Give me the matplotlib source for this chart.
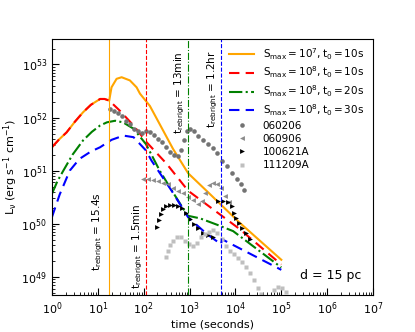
import numpy as np
import matplotlib
matplotlib.use("Agg")
from matplotlib import pyplot as plt

plt.rcParams['mathtext.default'] = 'regular'
plt.rcParams['font.family'] = ['DejaVu Sans']

# model curves as log10(t), log10(L)
orange_logt = [0, 0.16, 0.32, 0.5, 0.68, 0.85, 1.05, 1.15, 1.249, 1.30, 1.41, 1.52, 1.70, 1.846, 1.92, 2.135, 2.64, 2.97, 3.37, 4.09, 5.0]
orange_logL = [51.44, 51.59, 51.72, 51.92, 52.10, 52.24, 52.35, 52.35, 52.32, 52.57, 52.73, 52.76, 52.70, 52.57, 52.45, 52.22, 51.41, 50.95, 50.62, 50.02, 49.32]

red_logt = [0, 0.16, 0.32, 0.5, 0.68, 0.85, 1.05, 1.15, 1.25, 1.48, 1.78, 2.07, 2.50, 2.97, 4.09, 5.0]
red_logL = [51.44, 51.59, 51.72, 51.92, 52.10, 52.24, 52.35, 52.35, 52.32, 52.13, 51.85, 51.53, 51.13, 50.62, 49.9, 49.23]

green_logt = [0, 0.12, 0.25, 0.45, 0.68, 0.87, 1.05, 1.2, 1.38, 1.55, 1.78, 2.05, 2.35, 2.61, 2.96, 3.23, 3.6, 3.95, 5.0]
green_logL = [50.56, 50.8, 51.0, 51.3, 51.57, 51.73, 51.85, 51.91, 51.94, 51.91, 51.79, 51.50, 51.0, 50.63, 50.15, 50.10, 49.98, 49.86, 49.175]

blue_logt = [0, 0.17, 0.39, 0.6, 0.85, 1.05, 1.3, 1.56, 1.78, 2.05, 2.17, 2.61, 2.97, 3.37, 3.69, 3.70, 5.0]
blue_logL = [50.12, 50.55, 51.0, 51.22, 51.36, 51.44, 51.58, 51.66, 51.63, 51.38, 51.19, 50.62, 50.12, 49.81, 49.61, 49.71, 49.13]

# observed GRBs
grb060206_logt = [1.266, 1.354, 1.441, 1.528, 1.616, 1.703, 1.790, 1.878, 1.965, 2.052, 2.140, 2.227, 2.314, 2.402, 2.489, 2.576, 2.664, 2.751, 2.817, 2.882, 2.948, 3.013, 3.100, 3.188, 3.297, 3.406, 3.515, 3.603, 3.712, 3.821, 3.930, 4.039, 4.127, 4.192]
grb060206_logL = [52.17, 52.13, 52.08, 52.02, 51.94, 51.87, 51.79, 51.74, 51.70, 51.74, 51.72, 51.68, 51.60, 51.53, 51.45, 51.36, 51.30, 51.28, 51.38, 51.57, 51.75, 51.79, 51.74, 51.66, 51.58, 51.51, 51.42, 51.34, 51.19, 51.09, 50.96, 50.85, 50.74, 50.64]

grb060906_logt = [1.987, 2.096, 2.205, 2.314, 2.424, 2.533, 2.642, 2.751, 2.860, 2.969, 3.079, 3.188, 3.275, 3.341, 3.428, 3.515, 3.603, 3.690, 3.777, 3.865]
grb060906_logL = [50.85, 50.85, 50.83, 50.81, 50.77, 50.74, 50.68, 50.62, 50.57, 50.51, 50.45, 50.38, 50.43, 50.58, 50.72, 50.77, 50.75, 50.68, 50.53, 50.40]

grb100621A_logt = [2.293, 2.336, 2.380, 2.424, 2.489, 2.576, 2.664, 2.751, 2.838, 2.926, 3.013, 3.100, 3.188, 3.297, 3.406, 3.515, 3.624, 3.734, 3.843, 3.930, 3.974, 4.017, 4.083, 4.148, 4.236, 4.323]
grb100621A_logL = [49.94, 50.06, 50.19, 50.28, 50.34, 50.36, 50.36, 50.34, 50.30, 50.21, 50.09, 50.00, 49.91, 49.83, 49.79, 49.75, 50.43, 50.42, 50.40, 50.34, 50.21, 50.11, 50.02, 49.91, 49.83, 49.72]

grb111209A_logt = [2.489, 2.533, 2.576, 2.642, 2.729, 2.817, 2.904, 2.991, 3.079, 3.166, 3.253, 3.341, 3.428, 3.515, 3.603, 3.712, 3.799, 3.886, 3.974, 4.061, 4.148, 4.236, 4.323, 4.410, 4.498, 4.563, 4.847, 4.934, 5.022, 5.109]
grb111209A_logL = [49.38, 49.49, 49.60, 49.68, 49.75, 49.74, 49.68, 49.62, 49.58, 49.64, 49.74, 49.81, 49.85, 49.89, 49.83, 49.72, 49.58, 49.49, 49.43, 49.36, 49.28, 49.19, 49.08, 48.94, 48.79, 48.68, 48.75, 48.81, 48.79, 48.72]

# rebrightening times (line positions as drawn) and their labels
t_rebright = [17.7, 110, 904, 4966]
rebright_labels = ['15.4s', '1.5min', '13min', '1.2hr']
label_x = [10.1, 74.8, 617, 3240]
label_y = [7.1e49, 3.7e49, 2.95e52, 3.45e52]

fig = plt.figure(figsize=(4.15, 3.32), dpi=100)
ax = fig.add_axes([0.125, 0.111, 0.774, 0.771])

ax.plot(10**np.array(orange_logt), 10**np.array(orange_logL), color='orange', lw=1.5, ls='-',
        label=r'$S_{max}=10^7, t_0=10s$')
ax.plot(10**np.array(red_logt), 10**np.array(red_logL), color='r', lw=1.5, ls=(0, (5, 3)),
        label=r'$S_{max}=10^8, t_0=10s$')
ax.plot(10**np.array(green_logt), 10**np.array(green_logL), color='g', lw=1.5, ls='-.',
        label=r'$S_{max}=10^8, t_0=20s$')
ax.plot(10**np.array(blue_logt), 10**np.array(blue_logL), color='b', lw=1.5, ls=(0, (5, 3)),
        label=r'$S_{max}=10^8, t_0=30s$')

ax.plot(10**np.array(grb060206_logt), 10**np.array(grb060206_logL), 'o', color='0.45', ms=3.3, mec='none', label='060206')
ax.plot(10**np.array(grb060906_logt), 10**np.array(grb060906_logL), '<', color='0.55', ms=3.5, mec='none', label='060906')
ax.plot(10**np.array(grb100621A_logt), 10**np.array(grb100621A_logL), '>', color='k', ms=3.5, mec='none', label='100621A')
ax.plot(10**np.array(grb111209A_logt), 10**np.array(grb111209A_logL), 's', color='0.75', ms=3.3, mec='none', label='111209A')

vcolors = ['orange', 'r', 'g', 'b']
vstyles = ['-', '--', '-.', '--']
for t, c, s in zip(t_rebright, vcolors, vstyles):
    ax.axvline(t, color=c, ls=s, lw=0.8)

for x, y, lab in zip(label_x, label_y, rebright_labels):
    ax.text(x, y, r'$t_{rebright}$ = ' + lab, rotation=90, ha='center', va='center', fontsize=7.5)

ax.text(0.965, 0.05, 'd = 15 pc', transform=ax.transAxes, ha='right', va='bottom', fontsize=9)

ax.set_xscale('log')
ax.set_yscale('log')
ax.set_xlim(1, 1e7)
ax.set_ylim(4.5e48, 3e53)
ax.set_xlabel('time (seconds)', fontsize=8, labelpad=2)
ax.set_ylabel(r'$L_\nu$ (erg s$^{-1}$ cm$^{-1}$)', fontsize=8, labelpad=1)
ax.tick_params(which='both', direction='in', labelsize=8)
ax.tick_params(which='major', length=5)
ax.tick_params(which='minor', length=2.5)

ax.legend(loc='upper right', frameon=False, fontsize=7.5, handlelength=2.4,
          labelspacing=0.3, bbox_to_anchor=(1.0, 1.01))

plt.savefig('out.png', dpi=100)
